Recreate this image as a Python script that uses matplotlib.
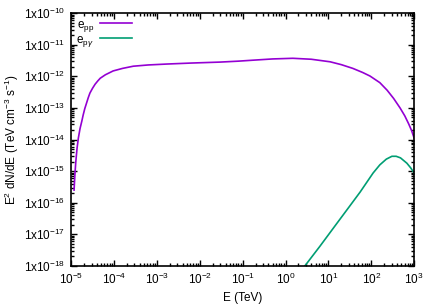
import numpy as np
import matplotlib
matplotlib.use("Agg")
import matplotlib.pyplot as plt
from matplotlib.ticker import FixedLocator, FuncFormatter, LogLocator, NullFormatter

plt.rcParams['font.family'] = ['Liberation Sans', 'DejaVu Sans']
plt.rcParams['mathtext.fontset'] = 'custom'
plt.rcParams['mathtext.rm'] = 'Liberation Sans'
plt.rcParams['mathtext.it'] = 'Liberation Sans:italic'
plt.rcParams['mathtext.bf'] = 'Liberation Sans:bold'

# e_pp component
E_pp = [1.175e-5, 1.23e-5, 1.29e-5, 1.38e-5, 1.48e-5, 1.62e-5, 1.78e-5, 1.91e-5,
        2.09e-5, 2.29e-5, 2.51e-5, 2.75e-5, 3.16e-5, 3.63e-5, 4.17e-5, 4.79e-5,
        6.31e-5, 9.55e-5, 1.58e-4, 2.82e-4, 6.31e-4, 1.74e-3, 6.31e-3, 2.95e-2,
        7.94e-2, 0.174, 0.501, 1.48, 3.98, 11.0, 20.0, 37.2, 63.1, 93.3, 158.0,
        234.0, 331.0, 468.0, 603.0, 741.0, 871.0, 1000.0]
F_pp = [2.51e-16, 7.94e-16, 2.0e-15, 5.37e-15, 1.12e-14, 2.24e-14, 3.8e-14, 5.89e-14,
        9.55e-14, 1.41e-13, 2.09e-13, 2.95e-13, 4.17e-13, 5.62e-13, 7.08e-13, 8.71e-13,
        1.12e-12, 1.48e-12, 1.78e-12, 2.09e-12, 2.29e-12, 2.45e-12, 2.63e-12, 2.82e-12,
        3.02e-12, 3.24e-12, 3.55e-12, 3.72e-12, 3.47e-12, 2.88e-12, 2.34e-12, 1.78e-12,
        1.32e-12, 1.02e-12, 6.31e-13, 3.63e-13, 2.0e-13, 1.0e-13, 5.62e-14, 3.16e-14,
        1.91e-14, 1.1e-14]

# e_pgamma component
E_pg = [2.82, 6.31, 15.8, 31.6, 55.0, 110.0, 158.0, 224.0, 302.0, 380.0, 479.0,
        676.0, 832.0, 1000.0]
F_pg = [1.0e-18, 4.17e-18, 2.24e-17, 7.94e-17, 2.19e-16, 8.71e-16, 1.58e-15, 2.4e-15,
        2.95e-15, 2.95e-15, 2.63e-15, 1.78e-15, 1.26e-15, 8.71e-16]

xticks = [1e-5, 1e-4, 1e-3, 1e-2, 1e-1, 1e0, 1e1, 1e2, 1e3]
yticks = [1e-18, 1e-17, 1e-16, 1e-15, 1e-14, 1e-13, 1e-12, 1e-11, 1e-10]

fig = plt.figure(figsize=(4.36, 3.05), dpi=100)
ax = fig.add_axes([0.163, 0.128, 0.787, 0.829])

ax.plot(E_pp, F_pp, color='#9400D3', lw=1.2, label=r'e$_{\mathrm{pp}}$')
ax.plot(E_pg, F_pg, color='#009E73', lw=1.2, label=r'e$_{\mathrm{p}\gamma}$')

ax.set_xscale('log')
ax.set_yscale('log')
ax.set_xlim(1e-5, 1e3)
ax.set_ylim(1e-18, 1e-10)

ax.xaxis.set_major_locator(FixedLocator(xticks))
ax.yaxis.set_major_locator(FixedLocator(yticks))
ax.xaxis.set_minor_locator(LogLocator(base=10, subs=np.arange(2, 10), numticks=20))
ax.yaxis.set_minor_locator(LogLocator(base=10, subs=np.arange(2, 10), numticks=20))
ax.xaxis.set_minor_formatter(NullFormatter())
ax.yaxis.set_minor_formatter(NullFormatter())
ax.xaxis.set_major_formatter(FuncFormatter(lambda v, p: r'10$^{%d}$' % int(round(np.log10(v)))))
ax.yaxis.set_major_formatter(FuncFormatter(lambda v, p: r'1x10$^{%d}$' % int(round(np.log10(v)))))

ax.tick_params(which='both', direction='in', top=True, right=True, labelsize=8.5, width=1.0)
ax.tick_params(which='major', length=4, pad=4)
ax.tick_params(which='minor', length=2)
for s in ax.spines.values():
    s.set_linewidth(1.2)

ax.set_xlabel('E (TeV)', fontsize=8.5, labelpad=4)
ax.set_ylabel(r'E$^{2}$ dN/dE (TeV cm$^{-3}$ s$^{-1}$)', fontsize=8.5, labelpad=2)

leg = ax.legend(loc='upper left', markerfirst=False, frameon=False, fontsize=8.5,
                handlelength=2.7, handletextpad=0.5, borderaxespad=0.0,
                labelspacing=0.0, borderpad=0.45)

fig.savefig('out.png', dpi=100)
